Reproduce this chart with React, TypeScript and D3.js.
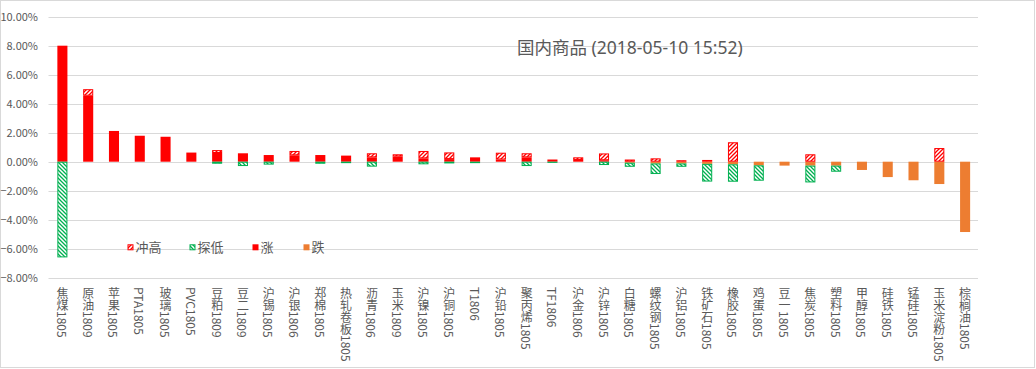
import React from "react";
import * as d3 from "d3";

const categories = [
  "焦煤1805", "原油1809", "苹果1805", "PTA1805", "玻璃1805", "PVC1805", "豆粕1809", "豆二1809",
  "沪锡1805", "沪银1806", "郑棉1805", "热轧卷板1805", "沥青1806", "玉米1809", "沪镍1805", "沪铜1805",
  "T1806", "沪铅1805", "聚丙烯1805", "TF1806", "沪金1806", "沪锌1805", "白糖1805", "螺纹钢1805",
  "沪铝1805", "铁矿石1805", "橡胶1805", "鸡蛋1805", "豆一1805", "焦炭1805", "塑料1805", "甲醇1805",
  "硅铁1805", "锰硅1805", "玉米淀粉1805", "棕榈油1805",
];
// 涨 (rise, %)
const rise = [
  8.0, 4.55, 2.12, 1.79, 1.72, 0.63, 0.6, 0.58,
  0.46, 0.44, 0.46, 0.42, 0.3, 0.35, 0.23, 0.18,
  0.3, 0.15, 0.3, 0.15, 0.12, 0.1, 0, 0,
  0, 0, 0, 0, 0, 0, 0, 0,
  0, 0, 0, 0,
];
// 跌 (fall, %)
const fall = [
  0, 0, 0, 0, 0, 0, 0, 0,
  0, 0, 0, 0, 0, 0, 0, 0,
  0, 0, 0, 0, 0, 0, -0.07, -0.12,
  -0.12, -0.15, -0.18, -0.25, -0.27, -0.27, -0.27, -0.57,
  -1.06, -1.28, -1.54, -4.85,
];
// 冲高 (high above, %)
const high = [
  0, 0.45, 0, 0, 0, 0, 0.2, 0,
  0, 0.3, 0, 0.04, 0.28, 0.16, 0.51, 0.46,
  0, 0.47, 0.28, 0.03, 0.18, 0.47, 0.15, 0.23,
  0.1, 0.12, 1.34, 0, 0, 0.51, 0, 0,
  0, 0, 0.94, 0,
];
// 探低 (low below, %)
const low = [
  -6.6, 0, 0, 0, 0, 0, -0.14, -0.3,
  -0.2, 0, -0.14, -0.1, -0.34, 0, -0.18, -0.12,
  -0.1, 0, -0.3, -0.08, -0.05, -0.23, -0.28, -0.73,
  -0.23, -1.22, -1.2, -1.06, 0, -1.16, -0.42, 0,
  0, 0, 0, 0,
];
const yTicks = [-8, -6, -4, -2, 0, 2, 4, 6, 8, 10];
const legendLabels = ["冲高", "探低", "涨", "跌"];
const title = "国内商品 (2018-05-10 15:52)";

const W = 1036;
const H = 369;
const FONT = "'Noto Sans CJK SC', 'Noto Sans', sans-serif";
const TITLE_FONT = "'Noto Sans', 'Noto Sans CJK SC', sans-serif";
const TEXT = "#595959";
const GRID = "#d9d9d9";
const RED = "#ff0000";
const ORANGE = "#ed7d31";
const GREEN = "#00b050";

export default function App() {
  const x = d3
    .scaleBand<string>()
    .domain(categories)
    .range([49.5, 978])
    .paddingInner(0.61)
    .paddingOuter(0.305);
  const y = d3.scaleLinear().domain([-8, 10]).range([277.7, 16.7]);

  const rows = categories.map((c, i) => ({
    name: c,
    rise: rise[i],
    fall: fall[i],
    high: high[i],
    low: low[i],
  }));
  const keys = ["rise", "fall", "high", "low"];
  const stacked = d3
    .stack<any>()
    .keys(keys)
    .offset(d3.stackOffsetDiverging)(rows);

  const styleFor: Record<string, { fill: string; stroke: string }> = {
    rise: { fill: RED, stroke: "none" },
    fall: { fill: ORANGE, stroke: "none" },
    high: { fill: "url(#hatchRed)", stroke: RED },
    low: { fill: "url(#hatchGreen)", stroke: GREEN },
  };

  const fmt = d3.format(".2f");
  const legendPos = [
    { key: "high", x: 127.5 },
    { key: "low", x: 189.5 },
    { key: "rise", x: 252.5 },
    { key: "fall", x: 303.5 },
  ];
  const legendY = 247.3;

  return (
    <svg
      width={W}
      height={H}
      style={{ position: "absolute", left: 0, top: 0, background: "#fff" }}
      fontFamily={FONT}
    >
      <defs>
        <pattern id="hatchRed" patternUnits="userSpaceOnUse" width={4} height={4}>
          <rect width={4} height={4} fill="#fff" />
          <path d="M-1,1 l2,-2 M0,4 l4,-4 M3,5 l2,-2" stroke={RED} strokeWidth={1.3} />
        </pattern>
        <pattern id="hatchGreen" patternUnits="userSpaceOnUse" width={4} height={4}>
          <rect width={4} height={4} fill="#fff" />
          <path d="M-1,3 l2,2 M0,0 l4,4 M3,-1 l2,2" stroke={GREEN} strokeWidth={1.3} />
        </pattern>
      </defs>
      <rect x={0.5} y={0.5} width={1034} height={367} fill="#fff" stroke={GRID} />

      {yTicks.map((t) => (
        <g key={t}>
          <line x1={48.5} x2={978} y1={Math.round(y(t)) + 0.5} y2={Math.round(y(t)) + 0.5} stroke={GRID} />
          <text
            x={38}
            y={y(t)}
            dy="0.35em"
            textAnchor="end"
            fontSize={11}
            fill={TEXT}
          >
            {fmt(t) + "%"}
          </text>
        </g>
      ))}

      {stacked.map((s) =>
        s.map((d, i) => {
          const v0 = d[0];
          const v1 = d[1];
          if (v0 === v1) return null;
          const st = styleFor[s.key];
          const top = y(Math.max(v0, v1));
          const bot = y(Math.min(v0, v1));
          const bx = x(categories[i])!;
          const hasStroke = st.stroke !== "none";
          return (
            <rect
              key={s.key + i}
              x={hasStroke ? bx + 0.5 : bx}
              y={hasStroke ? top + 0.5 : top}
              width={hasStroke ? x.bandwidth() - 1 : x.bandwidth()}
              height={Math.max(0, hasStroke ? bot - top - 1 : bot - top)}
              fill={st.fill}
              stroke={st.stroke}
              strokeWidth={1}
            />
          );
        })
      )}

      {categories.map((c) => (
        <text
          key={c}
          x={x(c)! + x.bandwidth() / 2}
          y={287}
          fontSize={12}
          fill={TEXT}
          style={{ writingMode: "vertical-rl" } as any}
        >
          {c}
        </text>
      ))}

      {legendPos.map((l, i) => {
        const st = styleFor[l.key];
        const hasStroke = st.stroke !== "none";
        return (
          <g key={l.key}>
            <rect
              x={hasStroke ? l.x + 0.5 : l.x}
              y={legendY - 3 + (hasStroke ? 0.5 : 0)}
              width={hasStroke ? 5 : 6}
              height={hasStroke ? 5 : 6}
              fill={st.fill}
              stroke={st.stroke}
            />
            <text x={l.x + 8} y={legendY} dy="0.35em" fontSize={13} fill={TEXT}>
              {legendLabels[i]}
            </text>
          </g>
        );
      })}

      <text x={517} y={48} dy="0.35em" fontSize={17.5} fill={TEXT} fontFamily={TITLE_FONT}>
        {title}
      </text>
    </svg>
  );
}
